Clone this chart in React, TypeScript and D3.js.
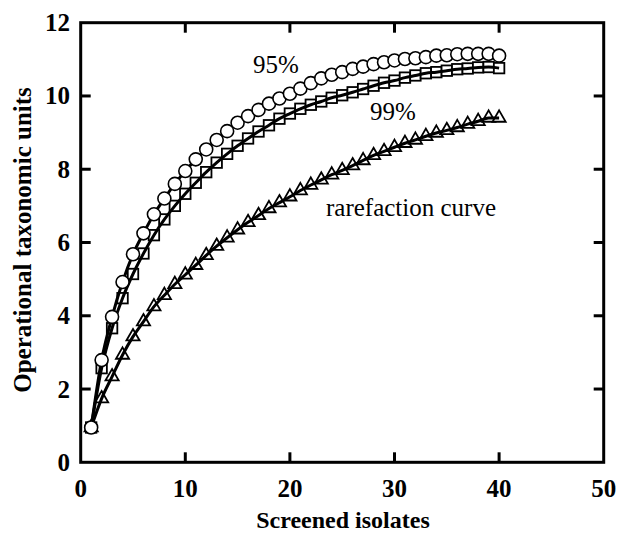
import React, { useEffect, useRef } from "react";
import * as d3 from "d3";

const isolates: number[] = Array.from({ length: 40 }, (_, i) => i + 1);

const otu95: number[] = [
  0.95, 2.79, 3.97, 4.92, 5.68, 6.25, 6.77, 7.2, 7.6, 7.95,
  8.27, 8.54, 8.8, 9.04, 9.27, 9.45, 9.62, 9.79, 9.93, 10.06,
  10.2, 10.35, 10.48, 10.58, 10.65, 10.74, 10.8, 10.87, 10.92, 10.97,
  11.01, 11.03, 11.06, 11.1, 11.11, 11.14, 11.15, 11.15, 11.15, 11.1,
];

const otu99: number[] = [
  0.95, 2.57, 3.66, 4.48, 5.14, 5.7, 6.2, 6.63, 7.0, 7.33,
  7.63, 7.92, 8.18, 8.42, 8.64, 8.84, 9.03, 9.2, 9.38, 9.52,
  9.65, 9.76, 9.85, 9.95, 10.02, 10.1, 10.19, 10.28, 10.36, 10.42,
  10.5, 10.56, 10.62, 10.65, 10.69, 10.73, 10.75, 10.78, 10.79, 10.76,
];

const rarefaction: number[] = [
  0.95, 1.74, 2.34, 2.93, 3.43, 3.84, 4.25, 4.56, 4.86, 5.12,
  5.38, 5.65, 5.9, 6.13, 6.35, 6.55, 6.74, 6.93, 7.09, 7.25,
  7.42, 7.57, 7.71, 7.85, 7.97, 8.1, 8.24, 8.38, 8.49, 8.6,
  8.71, 8.8, 8.9, 8.99, 9.06, 9.14, 9.23, 9.31, 9.4, 9.4,
];

const xTicks: number[] = [0, 10, 20, 30, 40, 50];
const yTicks: number[] = [0, 2, 4, 6, 8, 10, 12];

const xTitle = "Screened isolates";
const yTitle = "Operational taxonomic units";
const labels95 = "95%";
const labels99 = "99%";
const labelRare = "rarefaction curve";

const W = 618;
const H = 533;
const FONT = "'Liberation Serif', 'Times New Roman', serif";

export default function App() {
  const ref = useRef<SVGSVGElement | null>(null);

  useEffect(() => {
    const svg = d3.select(ref.current);
    svg.selectAll("*").remove();

    const x = d3.scaleLinear().domain([0, 50]).range([80.7, 603.7]);
    const y = d3.scaleLinear().domain([0, 12]).range([462.3, 22.7]);

    const g = svg.append("g");

    // frame
    g.append("rect")
      .attr("x", x(0))
      .attr("y", y(12))
      .attr("width", x(50) - x(0))
      .attr("height", y(0) - y(12))
      .attr("fill", "none")
      .attr("stroke", "#000")
      .attr("stroke-width", 3);

    const tl = 10;
    xTicks.slice(1, -1).forEach((t) => {
      g.append("line").attr("x1", x(t)).attr("x2", x(t)).attr("y1", y(0)).attr("y2", y(0) - tl)
        .attr("stroke", "#000").attr("stroke-width", 3);
      g.append("line").attr("x1", x(t)).attr("x2", x(t)).attr("y1", y(12)).attr("y2", y(12) + tl)
        .attr("stroke", "#000").attr("stroke-width", 3);
    });
    yTicks.slice(1, -1).forEach((t) => {
      g.append("line").attr("x1", x(0)).attr("x2", x(0) + tl).attr("y1", y(t)).attr("y2", y(t))
        .attr("stroke", "#000").attr("stroke-width", 3);
      g.append("line").attr("x1", x(50)).attr("x2", x(50) - tl).attr("y1", y(t)).attr("y2", y(t))
        .attr("stroke", "#000").attr("stroke-width", 3);
    });

    // tick labels
    xTicks.forEach((t) => {
      g.append("text").attr("x", x(t)).attr("y", 497)
        .attr("text-anchor", "middle").attr("font-family", FONT)
        .attr("font-weight", "bold").attr("font-size", 25).text(String(t));
    });
    yTicks.forEach((t) => {
      g.append("text").attr("x", 70).attr("y", y(t) + 8.5)
        .attr("text-anchor", "end").attr("font-family", FONT)
        .attr("font-weight", "bold").attr("font-size", 25).text(String(t));
    });

    // axis titles
    g.append("text").attr("x", 343).attr("y", 528)
      .attr("text-anchor", "middle").attr("font-family", FONT)
      .attr("font-weight", "bold").attr("font-size", 24).text(xTitle);
    g.append("text")
      .attr("transform", `translate(31,240) rotate(-90)`)
      .attr("text-anchor", "middle").attr("font-family", FONT)
      .attr("font-weight", "bold").attr("font-size", 25).text(yTitle);

    const line = (vals: number[]) =>
      d3.line<number>()
        .x((_, i) => x(isolates[i]))
        .y((d) => y(d))
        .curve(d3.curveMonotoneX)(vals);

    // triangles
    const tri = d3.symbol().type(d3.symbolTriangle).size(75);
    g.append("g").selectAll("path").data(rarefaction).join("path")
      .attr("d", tri as any)
      .attr("transform", (d, i) => `translate(${x(isolates[i])},${y(d)})`)
      .attr("fill", "#fff").attr("stroke", "#000").attr("stroke-width", 1.8);
    g.append("path").attr("d", line(rarefaction))
      .attr("fill", "none").attr("stroke", "#000").attr("stroke-width", 3);

    // squares
    const sq = 10.5;
    g.append("g").selectAll("rect").data(otu99).join("rect")
      .attr("x", (_, i) => x(isolates[i]) - sq / 2)
      .attr("y", (d) => y(d) - sq / 2)
      .attr("width", sq).attr("height", sq)
      .attr("fill", "#fff").attr("stroke", "#000").attr("stroke-width", 1.8);
    g.append("path").attr("d", line(otu99))
      .attr("fill", "none").attr("stroke", "#000").attr("stroke-width", 3);

    // circles
    g.append("path").attr("d", line(otu95))
      .attr("fill", "none").attr("stroke", "#000").attr("stroke-width", 3);
    g.append("g").selectAll("circle").data(otu95).join("circle")
      .attr("cx", (_, i) => x(isolates[i]))
      .attr("cy", (d) => y(d))
      .attr("r", 6.5)
      .attr("fill", "#fff").attr("stroke", "#000").attr("stroke-width", 1.6);

    // annotations
    const ann = (txt: string, cx: number, by: number) =>
      g.append("text").attr("x", cx).attr("y", by).attr("text-anchor", "middle")
        .attr("font-family", FONT).attr("font-size", 25).text(txt);
    ann(labels95, 276, 73);
    ann(labels99, 393, 120);
    ann(labelRare, 411, 216);
  }, []);

  return (
    <svg ref={ref} width={W} height={H} style={{ display: "block", position: "absolute", left: 0, top: 0 }} />
  );
}
